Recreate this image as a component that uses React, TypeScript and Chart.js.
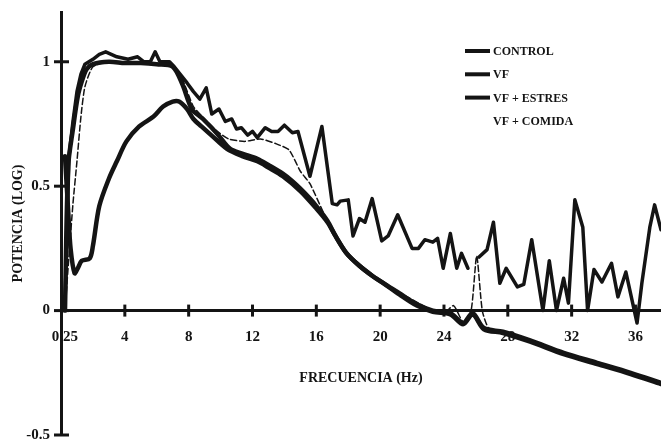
import React, { useEffect, useRef } from "react";
import { Chart, registerables } from "chart.js";

Chart.register(...registerables);

// ---- axis ticks ----
const xTickValues = [0.25, 4, 8, 12, 16, 20, 24, 28, 32, 36];
const xTickLabels = ["0.25", "4", "8", "12", "16", "20", "24", "28", "32", "36"];
const yTickValues = [-0.5, 0, 0.5, 1];
const yTickLabels = ["-0.5", "0", "0.5", "1"];

const seriesLabels = ["CONTROL", "VF", "VF + ESTRES", "VF + COMIDA"];

// ---- CONTROL (smooth plateau curve) ----
const controlFreq = [0.25, 0.45, 0.75, 1.05, 1.3, 1.6, 2.0, 3.0, 4.0, 5.0, 6.0, 7.0, 7.6, 8.2, 8.9, 9.8, 10.6, 11.4, 12.3, 13.0, 13.9, 14.5, 15.0, 15.6, 16.0, 16.7, 17.2, 17.9, 18.7, 19.5, 20.2, 21.2, 22.3, 23.3, 24.4, 25.2, 25.8, 26.5, 27.7, 29.4, 31.5, 33.6, 35.7, 37.6];
const controlPow = [0.0, 0.58, 0.73, 0.86, 0.92, 0.97, 0.99, 1.0, 0.995, 0.995, 0.99, 0.98, 0.91, 0.81, 0.77, 0.71, 0.65, 0.63, 0.61, 0.585, 0.55, 0.52, 0.49, 0.45, 0.42, 0.36, 0.3, 0.23, 0.18, 0.14, 0.11, 0.07, 0.025, 0.0, -0.01, -0.05, -0.01, -0.07, -0.085, -0.12, -0.17, -0.21, -0.25, -0.29];

// ---- VF (noisy curve) ----
const vfFreq = [0.25, 0.5, 0.75, 1.0, 1.25, 1.5, 2.0, 2.4, 2.8, 3.5, 4.2, 4.8, 5.2, 5.6, 5.9, 6.2, 6.8, 7.1, 7.9, 8.3, 8.7, 9.1, 9.45, 9.9, 10.3, 10.7, 11.0, 11.3, 11.7, 12.0, 12.3, 12.8, 13.2, 13.6, 14.0, 14.5, 14.85, 15.6, 16.35, 17.0, 17.3, 17.5, 18.0, 18.3, 18.7, 19.05, 19.5, 20.1, 20.5, 21.1, 22.0, 22.4, 22.8, 23.3, 23.6, 23.95, 24.4, 24.8, 25.1, 25.5, 25.8, 26.2, 26.7, 27.1, 27.5, 27.9, 28.6, 29.0, 29.5, 30.2, 30.6, 31.05, 31.5, 31.8, 32.2, 32.7, 33.0, 33.4, 33.9, 34.5, 34.9, 35.4, 36.1, 36.4, 36.9, 37.2, 37.6];
const vfPow = [0.02, 0.62, 0.76, 0.88, 0.95, 0.99, 1.01, 1.03, 1.04, 1.02, 1.01, 1.02, 1.0, 1.0, 1.04, 1.0, 1.0, 0.98, 0.915, 0.88, 0.85, 0.895, 0.79, 0.81, 0.76, 0.77, 0.73, 0.735, 0.705, 0.72, 0.695, 0.735, 0.72, 0.72, 0.745, 0.715, 0.72, 0.54, 0.74, 0.43, 0.425, 0.44, 0.445, 0.3, 0.37, 0.355, 0.45, 0.28, 0.3, 0.385, 0.25, 0.25, 0.285, 0.275, 0.29, 0.17, 0.31, 0.17, 0.23, 0.17, null, 0.215, 0.245, 0.355, 0.11, 0.17, 0.095, 0.105, 0.285, 0.0, 0.2, 0.0, 0.13, 0.03, 0.445, 0.335, 0.0, 0.165, 0.115, 0.19, 0.055, 0.155, -0.05, 0.11, 0.335, 0.425, 0.325];

// ---- VF + ESTRES (low start, peak near 7 Hz) ----
const estresFreq = [0.25, 0.45, 0.6, 0.85, 1.05, 1.3, 1.8, 2.0, 2.4, 3.0, 3.5, 4.1, 4.9, 5.8, 6.4, 7.0, 7.4, 7.9, 8.3, 8.8, 9.5, 10.4, 11.4, 12.3, 13.0, 13.9, 15.0, 16.0, 16.7, 17.2, 17.9, 18.7, 19.5, 20.2, 21.2, 22.3, 23.3, 24.4, 25.2, 25.8, 26.5, 27.7, 29.4, 31.5, 33.6, 35.7, 37.6];
const estresPow = [0.62, 0.4, 0.25, 0.15, 0.17, 0.2, 0.21, 0.26, 0.42, 0.53, 0.6, 0.68, 0.74, 0.78, 0.82, 0.84, 0.84, 0.81, 0.77, 0.74, 0.7, 0.65, 0.62, 0.6, 0.575, 0.54, 0.48, 0.41, 0.355, 0.3, 0.23, 0.18, 0.14, 0.11, 0.065, 0.02, -0.005, -0.015, -0.055, -0.015, -0.075, -0.09, -0.125, -0.175, -0.215, -0.255, -0.295];

// ---- VF + COMIDA (thin dashed) ----
const comidaFreq = [0.25, 0.5, 0.75, 1.0, 1.25, 1.5, 2.0, 3.0, 4.0, 5.0, 6.0, 7.0, 7.6, 8.3, 9.0, 9.8, 10.5, 11.5, 12.5, 13.5, 14.3, 15.0, 15.6, 16.4, 17.0, 18.0, 19.0, 20.0, 21.0, 22.0, 23.0, 24.0, 24.6, 25.2, 25.7, 26.05, 26.4, 26.8, 27.7, 29.4, 31.5, 33.6, 35.7, 37.6];
const comidaPow = [0.0, 0.22, 0.43, 0.6, 0.78, 0.9, 0.98, 1.0, 1.0, 0.995, 0.99, 0.98, 0.93, 0.82, 0.77, 0.72, 0.69, 0.68, 0.69, 0.67, 0.645, 0.56, 0.51, 0.4, 0.32, 0.225, 0.165, 0.12, 0.08, 0.045, 0.01, -0.01, 0.02, -0.045, 0.0, 0.22, 0.0, -0.07, -0.085, -0.12, -0.17, -0.21, -0.25, -0.29];

const INK = "#141414";
const FONT = "'Liberation Serif', 'Times New Roman', serif";

const zip = (xs: number[], ys: (number | null)[]) => xs.map((x, i) => ({ x, y: ys[i] }));

const tickMarks = {
  id: "tickMarks",
  afterDatasetsDraw(chart: any) {
    const { ctx, scales, chartArea } = chart;
    const xs = scales.x;
    const ys = scales.y;
    const y0 = ys.getPixelForValue(0);
    const x0 = chartArea.left;
    ctx.save();
    ctx.strokeStyle = INK;
    ctx.lineWidth = 3;
    xTickValues.forEach((v) => {
      if (v < 1) return;
      const px = xs.getPixelForValue(v);
      ctx.beginPath();
      ctx.moveTo(px, y0 - 6);
      ctx.lineTo(px, y0 + 6);
      ctx.stroke();
    });
    yTickValues.forEach((v) => {
      const py = ys.getPixelForValue(v);
      ctx.beginPath();
      ctx.moveTo(x0 - 7, py);
      ctx.lineTo(x0 + 8, py);
      ctx.stroke();
    });
    ctx.restore();
  },
};

const customLegend = {
  id: "customLegend",
  afterDraw(chart: any) {
    const { ctx } = chart;
    const sx = 465;
    const len = 25;
    const tx = 493;
    const top = 51;
    const step = 23.3;
    ctx.save();
    ctx.font = `bold 12px ${FONT}`;
    ctx.fillStyle = INK;
    ctx.textBaseline = "middle";
    chart.data.datasets.forEach((ds: any, i: number) => {
      const y = top + i * step;
      if (!ds.borderDash || ds.borderDash.length === 0) {
        ctx.strokeStyle = INK;
        ctx.lineWidth = 4;
        ctx.beginPath();
        ctx.moveTo(sx, y);
        ctx.lineTo(sx + len, y);
        ctx.stroke();
      }
      ctx.fillText(ds.label, tx, y + 1);
    });
    ctx.restore();
  },
};

export default function App() {
  const ref = useRef<HTMLCanvasElement>(null);

  useEffect(() => {
    const chart = new Chart(ref.current as HTMLCanvasElement, {
      type: "line",
      data: {
        datasets: [
          {
            label: seriesLabels[0],
            data: zip(controlFreq, controlPow),
            borderColor: INK,
            borderWidth: 4.5,
            tension: 0.3,
            pointRadius: 0,
            fill: false,
          },
          {
            label: seriesLabels[1],
            data: zip(vfFreq, vfPow),
            borderColor: INK,
            borderWidth: 3.5,
            tension: 0,
            pointRadius: 0,
            spanGaps: false,
            fill: false,
          },
          {
            label: seriesLabels[2],
            data: zip(estresFreq, estresPow),
            borderColor: INK,
            borderWidth: 4.5,
            tension: 0.3,
            pointRadius: 0,
            fill: false,
          },
          {
            label: seriesLabels[3],
            data: zip(comidaFreq, comidaPow),
            borderColor: INK,
            borderWidth: 1.5,
            borderDash: [6, 3],
            tension: 0.2,
            pointRadius: 0,
            fill: false,
          },
        ] as any,
      },
      options: {
        responsive: false,
        animation: false,
        layout: { padding: { top: 12, bottom: 10, left: 0, right: 0 } },
        plugins: {
          legend: { display: false },
          tooltip: { enabled: false },
        },
        elements: { line: { borderJoinStyle: "round", borderCapStyle: "round" } },
        scales: {
          x: {
            type: "linear",
            min: 0,
            max: 37.6,
            position: { y: 0 } as any,
            grid: { display: false, drawTicks: false },
            border: { display: true, width: 3, color: INK },
            afterBuildTicks: (s: any) => {
              s.ticks = xTickValues.map((v) => ({ value: v }));
            },
            ticks: {
              autoSkip: false,
              maxRotation: 0,
              padding: 18,
              color: INK,
              font: { family: FONT, size: 15, weight: "bold" },
              callback: (_v: any, i: number) => xTickLabels[i],
            },
            title: {
              display: true,
              text: "FRECUENCIA (Hz)",
              color: INK,
              font: { family: FONT, size: 14, weight: "bold" },
              padding: { top: 5, bottom: 0 },
            },
          },
          y: {
            type: "linear",
            min: -0.5,
            max: 1.2,
            afterFit: (s: any) => {
              s.width = 61;
              s.paddingTop = 0;
              s.paddingBottom = 0;
            },
            grid: { display: false, drawTicks: false },
            border: { display: true, width: 3, color: INK },
            afterBuildTicks: (s: any) => {
              s.ticks = yTickValues.map((v) => ({ value: v }));
            },
            ticks: {
              padding: 11,
              color: INK,
              font: { family: FONT, size: 15, weight: "bold" },
              callback: (_v: any, i: number) => yTickLabels[i],
            },
            title: {
              display: true,
              text: "POTENCIA (LOG)",
              color: INK,
              font: { family: FONT, size: 14, weight: "bold" },
              padding: { top: 10, bottom: 0 },
            },
          },
        },
      } as any,
      plugins: [tickMarks, customLegend],
    });
    return () => chart.destroy();
  }, []);

  return (
    <div style={{ position: "absolute", left: 0, top: 0, width: 661, height: 445, background: "#fff" }}>
      <canvas ref={ref} width={661} height={445} style={{ display: "block" }} />
    </div>
  );
}
